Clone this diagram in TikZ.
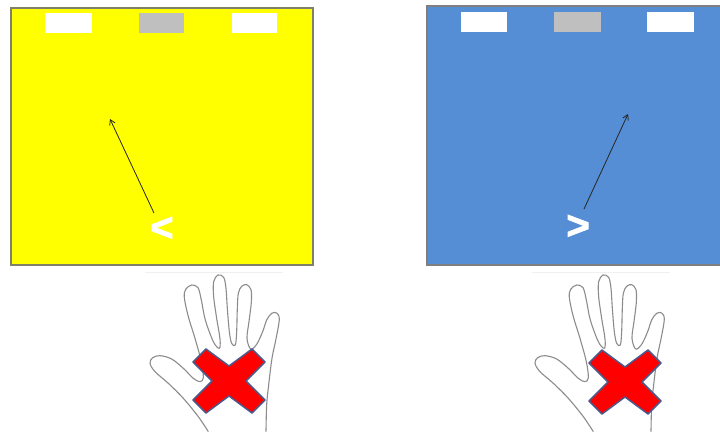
\documentclass[tikz,border=0pt]{standalone}
\usepackage{fontspec}
\setmainfont{Liberation Sans}
\newfontfamily\signfont[FakeBold=2.2]{Liberation Sans Bold}
\usetikzlibrary{arrows.meta}
\definecolor{panelyellow}{HTML}{FFFF00}
\definecolor{panelblue}{HTML}{558ED5}
\definecolor{yellowedge}{HTML}{7F7F6A}
\definecolor{blueedge}{HTML}{7F7F80}
\definecolor{slot}{HTML}{BFBFBF}
\definecolor{handgray}{HTML}{8C8C8C}
\definecolor{crossred}{HTML}{FF0000}
\definecolor{crossedge}{HTML}{4A5A8C}
\tikzset{
  slotbox/.style={fill=white, draw=none},
  midslot/.style={fill=slot, draw=none},
  pointer/.style={draw=black!85, line width=0.8pt, -{Straight Barb[length=5pt,width=6pt]}},
  sign/.style={text=white, font=\signfont\fontsize{40}{40}\selectfont, inner sep=0pt},
  handline/.style={draw=handgray, line width=1.1pt, line join=round},
  crossmark/.style={fill=crossred, draw=crossedge, line width=1.5pt, line join=round},
  photoedge/.style={draw=black!6, line width=0.8pt}
}
% one hand outline, in local units of a third of a point
\newcommand{\handoutline}{%
  \draw[handline] plot[smooth, tension=0.55] coordinates {
    (205,500) (175,455) (130,400) (85,355) (45,320) (30,295) (38,278) (60,272)
    (95,282) (130,310) (160,340) (180,350) (190,338) (184,290) (165,220)
    (145,155) (133,98) (137,73) (155,60) (174,68) (184,105) (196,165)
    (220,230) (238,250) (240,222) (230,160) (221,95) (221,50) (234,30)
    (251,37) (258,70) (262,130) (268,200) (275,235) (286,240) (290,200)
    (292,130) (295,85) (305,64) (320,59) (333,74) (334,112) (327,170)
    (321,220) (332,252) (350,238) (368,200) (380,165) (395,145) (410,144)
    (418,163) (408,222) (396,280) (386,360) (380,420) (378,500)};%
}
% the red cross, centred on the current origin
\newcommand{\crossshape}{%
  \draw[crossmark] (-36,-19) -- (-23,-32) -- (0,-15) -- (23,-32) -- (36,-19)
    -- (17,0) -- (36,19) -- (23,32) -- (0,15) -- (-23,32) -- (-36,19)
    -- (-17,0) -- cycle;%
}
\begin{document}
\begin{tikzpicture}[x=1pt, y=-1pt]
  \useasboundingbox (0,0) rectangle (720,432);
  \fill[white] (0,0) rectangle (720,432);

  % yellow panel
  \draw[fill=panelyellow, draw=yellowedge, line width=2pt] (11,8) rectangle (313,265);
  \fill[slotbox] (45,13) rectangle (92,33);
  \fill[midslot] (139,13) rectangle (184,33);
  \fill[slotbox] (232,13) rectangle (277,33);
  \node[sign] (ltsign) at (162,229) {<};
  \coordinate (lstart) at (154,213);
  \coordinate (lend) at (110,119);
  \draw[pointer] (lstart) -- (lend);

  % blue panel
  \fill[blueedge] (426,5) rectangle (720,266);
  \fill[panelblue] (428,7) rectangle (720,263.5);
  \fill[slotbox] (461,12) rectangle (507,32);
  \fill[midslot] (554,12) rectangle (601,32);
  \fill[slotbox] (647,12) rectangle (694,32);
  \node[sign] (gtsign) at (578,227) {>};
  \coordinate (rstart) at (584,209);
  \coordinate (rend) at (628,114);
  \draw[pointer] (rstart) -- (rend);

  % left hand with cross
  \draw[photoedge] (145,272) -- (283,272);
  \begin{scope}[shift={(140,265)}, x=0.3333pt, y=-0.3333pt]
    \handoutline
  \end{scope}
  \begin{scope}[shift={(229,381)}]
    \crossshape
  \end{scope}

  % right hand with cross
  \draw[photoedge] (532,272) -- (670,272);
  \begin{scope}[shift={(525,265)}, x=0.3333pt, y=-0.3333pt]
    \handoutline
  \end{scope}
  \begin{scope}[shift={(625,382)}]
    \crossshape
  \end{scope}
\end{tikzpicture}
\end{document}
